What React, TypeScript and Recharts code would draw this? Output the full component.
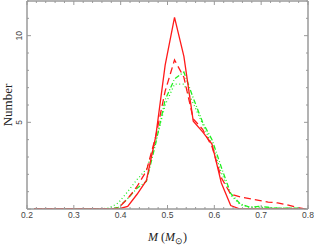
import React from 'react';
import { LineChart, Line, XAxis, YAxis } from 'recharts';

const massBins = [0.215, 0.235, 0.255, 0.275, 0.295, 0.315, 0.335, 0.355, 0.375, 0.395, 0.415, 0.435, 0.455, 0.475, 0.495, 0.515, 0.535, 0.555, 0.575, 0.595, 0.615, 0.635, 0.655, 0.675, 0.695, 0.715, 0.735, 0.755, 0.775, 0.795];
const redSolid = [0, 0, 0, 0, 0, 0, 0, 0, 0, 0, 0.15, 0.85, 1.65, 4.2, 8.3, 11.05, 8.8, 5.07, 4.45, 3.75, 1.5, 0.2, 0, 0, 0, 0, 0, 0, 0, 0];
const redDashed = [0, 0, 0, 0, 0, 0, 0, 0, 0, 0.05, 0.6, 1.3, 2.2, 4.2, 6.8, 8.6, 7.6, 5.2, 4.6, 3.6, 1.8, 0.85, 0.7, 0.6, 0.5, 0.4, 0.35, 0.25, 0.1, 0];
const greenDotted = [0, 0, 0, 0, 0, 0, 0, 0, 0.05, 0.35, 1.0, 1.7, 2.3, 3.9, 6.0, 7.2, 7.2, 6.1, 4.9, 3.7, 2.1, 0.8, 0.25, 0.1, 0.1, 0.05, 0.05, 0.05, 0.05, 0];
const greenDashDot = [0, 0, 0, 0, 0, 0, 0, 0, 0, 0.1, 0.6, 1.2, 1.6, 3.8, 6.3, 7.5, 7.9, 6.4, 5.0, 4.0, 2.4, 0.9, 0.3, 0.1, 0.15, 0.1, 0.05, 0.05, 0.05, 0];

const xTicks = [0.2, 0.22, 0.24, 0.26, 0.28, 0.3, 0.32, 0.34, 0.36, 0.38, 0.4, 0.42, 0.44, 0.46, 0.48, 0.5, 0.52, 0.54, 0.56, 0.58, 0.6, 0.62, 0.64, 0.66, 0.68, 0.7, 0.72, 0.74, 0.76, 0.78, 0.8];
const xMajorLabels = ['0.2', '0.3', '0.4', '0.5', '0.6', '0.7', '0.8'];
const yTicks = [0, 1, 2, 3, 4, 5, 6, 7, 8, 9, 10, 11, 12];
const yLabeled = [5, 10];

const data = massBins.map((m, i) => ({
  m,
  redSolid: redSolid[i],
  redDashed: redDashed[i],
  greenDotted: greenDotted[i],
  greenDashDot: greenDashDot[i],
}));

const AXIS = '#9a9a9a';
const TEXT = '#444';

const isMajorX = (v: number) => Math.round(v * 100) % 10 === 0;
const isMajorY = (v: number) => v % 5 === 0;

const BottomTick = (props: any) => {
  const { x, y, payload } = props;
  const major = isMajorX(payload.value);
  const label = major ? payload.value.toFixed(1) : null;
  return (
    <g>
      <line x1={x} y1={y} x2={x} y2={y - (major ? 4 : 2)} stroke={AXIS} strokeWidth={1} />
      {label && xMajorLabels.includes(label) ? (
        <text x={x} y={y + 9} textAnchor="middle" fontSize={8.5} fill={TEXT} fontFamily="Liberation Sans, Arial, sans-serif">
          {label}
        </text>
      ) : null}
    </g>
  );
};

const TopTick = (props: any) => {
  const { x, y, payload } = props;
  const major = isMajorX(payload.value);
  return <line x1={x} y1={y} x2={x} y2={y + (major ? 4 : 2)} stroke={AXIS} strokeWidth={1} />;
};

const LeftTick = (props: any) => {
  const { x, y, payload } = props;
  const major = isMajorY(payload.value);
  const show = yLabeled.includes(payload.value);
  return (
    <g>
      <line x1={x} y1={y} x2={x + (major ? 4 : 2)} y2={y} stroke={AXIS} strokeWidth={1} />
      {show ? (
        <text
          x={x - 5}
          y={y}
          textAnchor="middle"
          fontSize={8.5}
          fill={TEXT}
          fontFamily="Liberation Sans, Arial, sans-serif"
          transform={`rotate(-90, ${x - 5}, ${y})`}
        >
          {String(payload.value)}
        </text>
      ) : null}
    </g>
  );
};

const RightTick = (props: any) => {
  const { x, y, payload } = props;
  const major = isMajorY(payload.value);
  return <line x1={x} y1={y} x2={x - (major ? 4 : 2)} y2={y} stroke={AXIS} strokeWidth={1} />;
};

const XTitle = (props: any) => {
  const vb = props.viewBox || {};
  const cx = vb.x + vb.width / 2;
  const y = vb.y + 32;
  return (
    <text x={cx} y={y} textAnchor="middle" fontSize={12} fill="#222" fontFamily="Liberation Serif, Times New Roman, serif">
      <tspan fontStyle="italic">M</tspan>
      <tspan> (</tspan>
      <tspan fontStyle="italic">M</tspan>
      <tspan dy={3} fontSize={9}>⊙</tspan>
      <tspan dy={-3}>)</tspan>
    </text>
  );
};

const YTitle = (props: any) => {
  const vb = props.viewBox || {};
  const cy = vb.y + vb.height / 2;
  const x = vb.x + vb.width - 15;
  return (
    <text
      x={x}
      y={cy}
      textAnchor="middle"
      fontSize={13}
      fill="#222"
      fontFamily="Liberation Serif, Times New Roman, serif"
      transform={`rotate(-90, ${x}, ${cy})`}
    >
      Number
    </text>
  );
};

export default function App() {
  return (
    <div style={{ position: 'absolute', left: 0, top: 0, width: 314, height: 246, background: '#fff' }}>
      <LineChart width={314} height={246} data={data} margin={{ top: 0, right: 5, bottom: 36, left: 26 }}>
        <XAxis
          dataKey="m"
          type="number"
          domain={[0.2, 0.8]}
          ticks={xTicks}
          interval={0}
          height={1}
          tickSize={0}
          tickMargin={0}
          tickLine={false}
          axisLine={{ stroke: AXIS, strokeWidth: 1.5 }}
          tick={<BottomTick />}
          allowDataOverflow
          label={<XTitle />}
        />
        <XAxis
          xAxisId="top"
          dataKey="m"
          type="number"
          orientation="top"
          domain={[0.2, 0.8]}
          ticks={xTicks}
          interval={0}
          height={1}
          tickSize={0}
          tickMargin={0}
          tickLine={false}
          axisLine={{ stroke: AXIS, strokeWidth: 1.5 }}
          tick={<TopTick />}
          allowDataOverflow
        />
        <YAxis
          type="number"
          domain={[0, 12]}
          ticks={yTicks}
          interval={0}
          width={1}
          tickSize={0}
          tickMargin={0}
          tickLine={false}
          axisLine={{ stroke: AXIS, strokeWidth: 1.5 }}
          tick={<LeftTick />}
          allowDataOverflow
          label={<YTitle />}
        />
        <YAxis
          yAxisId="right"
          orientation="right"
          type="number"
          domain={[0, 12]}
          ticks={yTicks}
          interval={0}
          width={1}
          tickSize={0}
          tickMargin={0}
          tickLine={false}
          axisLine={{ stroke: AXIS, strokeWidth: 1.5 }}
          tick={<RightTick />}
          allowDataOverflow
        />
        <Line type="linear" dataKey="greenDotted" stroke="#22ee22" strokeWidth={1.3} strokeDasharray="1 2.5" dot={false} isAnimationActive={false} />
        <Line type="linear" dataKey="greenDashDot" stroke="#22ee22" strokeWidth={1.3} strokeDasharray="5 2 1 2" dot={false} isAnimationActive={false} />
        <Line type="linear" dataKey="redDashed" stroke="#ff1a1a" strokeWidth={1.3} strokeDasharray="7 4" dot={false} isAnimationActive={false} />
        <Line type="linear" dataKey="redSolid" stroke="#ff1a1a" strokeWidth={1.3} dot={false} isAnimationActive={false} />
      </LineChart>
    </div>
  );
}
